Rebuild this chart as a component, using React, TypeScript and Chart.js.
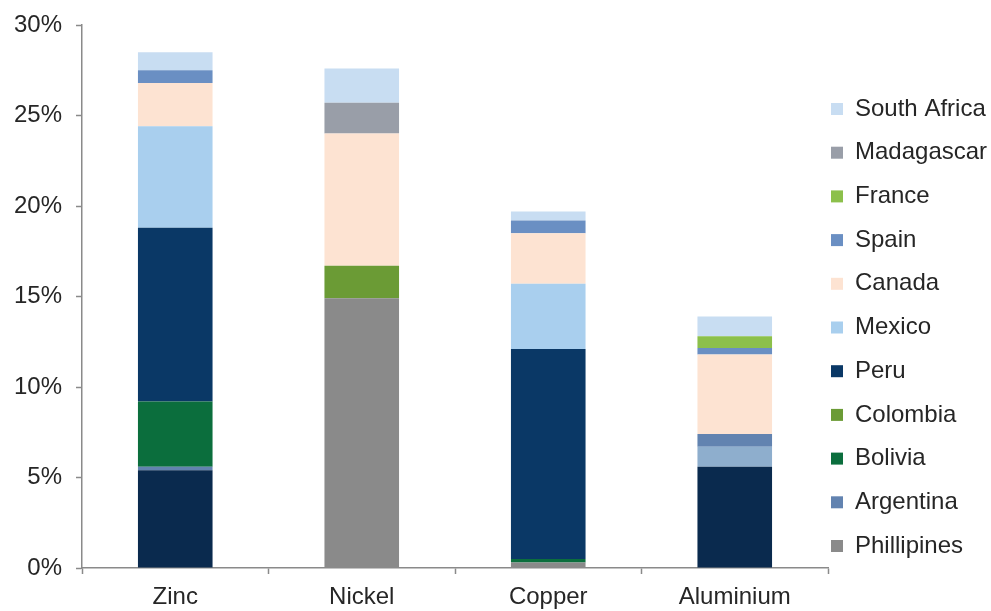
import React, { useEffect, useRef } from "react";
import { Chart, registerables } from "chart.js";

Chart.register(...registerables);

const categories = ["Zinc", "Nickel", "Copper", "Aluminium"];

// stacked bottom-up
const otherBase = [5.4, 0, 0, 5.6];
const phillipines = [0, 14.9, 0.3, 0];
const otherSteel = [0, 0, 0, 1.1];
const argentina = [0.2, 0, 0, 0.7];
const bolivia = [3.6, 0, 0.2, 0];
const colombia = [0, 1.8, 0, 0];
const peru = [9.6, 0, 11.6, 0];
const mexico = [5.6, 0, 3.6, 0];
const canada = [2.4, 7.3, 2.8, 4.4];
const spain = [0.7, 0, 0.7, 0.35];
const france = [0, 0, 0, 0.65];
const madagascar = [0, 1.7, 0, 0];
const southAfrica = [1.0, 1.9, 0.5, 1.1];

const yTicks = [0, 5, 10, 15, 20, 25, 30];

const FONT = "'Liberation Sans', Arial, sans-serif";
const FS = 24;

export default function App() {
  const ref = useRef<HTMLCanvasElement>(null);
  useEffect(() => {
    document.body.style.margin = "0";
    const canvas = ref.current!;
    const legendPad = 3;

    const ds = (label: string, data: number[], color: string, hidden = false) => ({
      label,
      data,
      backgroundColor: color,
      borderWidth: 0,
      hiddenLegend: hidden,
    });

    const datasets: any[] = [
      ds("Other", otherBase, "#0a2a4e", true),
      ds("Phillipines", phillipines, "#8a8a8a"),
      ds("Other 2", otherSteel, "#8eaecd", true),
      ds("Argentina", argentina, "#6283b0"),
      ds("Bolivia", bolivia, "#0b6e3d"),
      ds("Colombia", colombia, "#6b9b35"),
      ds("Peru", peru, "#0a3866"),
      ds("Mexico", mexico, "#a9cfee"),
      ds("Canada", canada, "#fde3d2"),
      ds("Spain", spain, "#6a8fc3"),
      ds("France", france, "#8cc04b"),
      ds("Madagascar", madagascar, "#999ea8"),
      ds("South Africa", southAfrica, "#c8ddf2"),
    ];

    const chart = new Chart(canvas, {
      type: "bar",
      data: { labels: categories, datasets },
      options: {
        animation: false,
        responsive: false,
        devicePixelRatio: 1,
        layout: { padding: { top: 25, bottom: 0, left: 0, right: 0 } },
        datasets: { bar: { barPercentage: 0.4, categoryPercentage: 1 } },
        plugins: {
          title: { display: false },
          tooltip: { enabled: false },
          legend: {
            position: "right",
            align: "start",
            reverse: true,
            maxWidth: 163,
            title: {
              display: true,
              text: " ",
              font: { size: 10, lineHeight: 1 },
              padding: { top: 29.5, bottom: 29.5 },
            },
            labels: {
              boxWidth: 12,
              boxHeight: 12,
              padding: legendPad,
              color: "#262626",
              font: { family: FONT, size: FS, lineHeight: 40.7 / FS },
              filter: (item: any, data: any) => !data.datasets[item.datasetIndex].hiddenLegend,
              generateLabels: (c: any) =>
                (Chart.defaults.plugins.legend.labels.generateLabels as any)(c).map((l: any) => ({
                  ...l,
                  text: [l.text],
                  lineWidth: 0,
                  strokeStyle: "rgba(0,0,0,0)",
                })),
            },
          },
        },
        scales: {
          x: {
            stacked: true,
            afterFit: (s: any) => {
              s.height = 43;
              s.paddingLeft = 0;
              s.paddingRight = 0;
            },
            border: { color: "#8a8a8a", width: 1.5 },
            grid: { offset: true, drawOnChartArea: false, tickLength: 6, color: "#8a8a8a", tickWidth: 1.5 },
            ticks: { color: "#262626", font: { family: FONT, size: FS }, padding: 9, maxRotation: 0 },
          },
          y: {
            stacked: true,
            min: 0,
            max: 30,
            afterFit: (s: any) => {
              s.width = 82;
              s.paddingTop = 0;
              s.paddingBottom = 0;
            },
            afterBuildTicks: (s: any) => {
              s.ticks = yTicks.map((v) => ({ value: v }));
            },
            border: { color: "#8a8a8a", width: 1.5 },
            grid: { drawOnChartArea: false, tickLength: 6, color: "#8a8a8a", tickWidth: 1.5 },
            ticks: {
              color: "#262626",
              font: { family: FONT, size: FS },
              padding: 14,
              callback: (v: any) => `${v}%`,
            },
          },
        },
      } as any,
    });
    return () => chart.destroy();
  }, []);
  return (
    <div style={{ position: "absolute", left: 0, top: 0, width: 991, height: 611 }}>
      <canvas ref={ref} width={991} height={611} style={{ width: 991, height: 611 }} />
    </div>
  );
}
